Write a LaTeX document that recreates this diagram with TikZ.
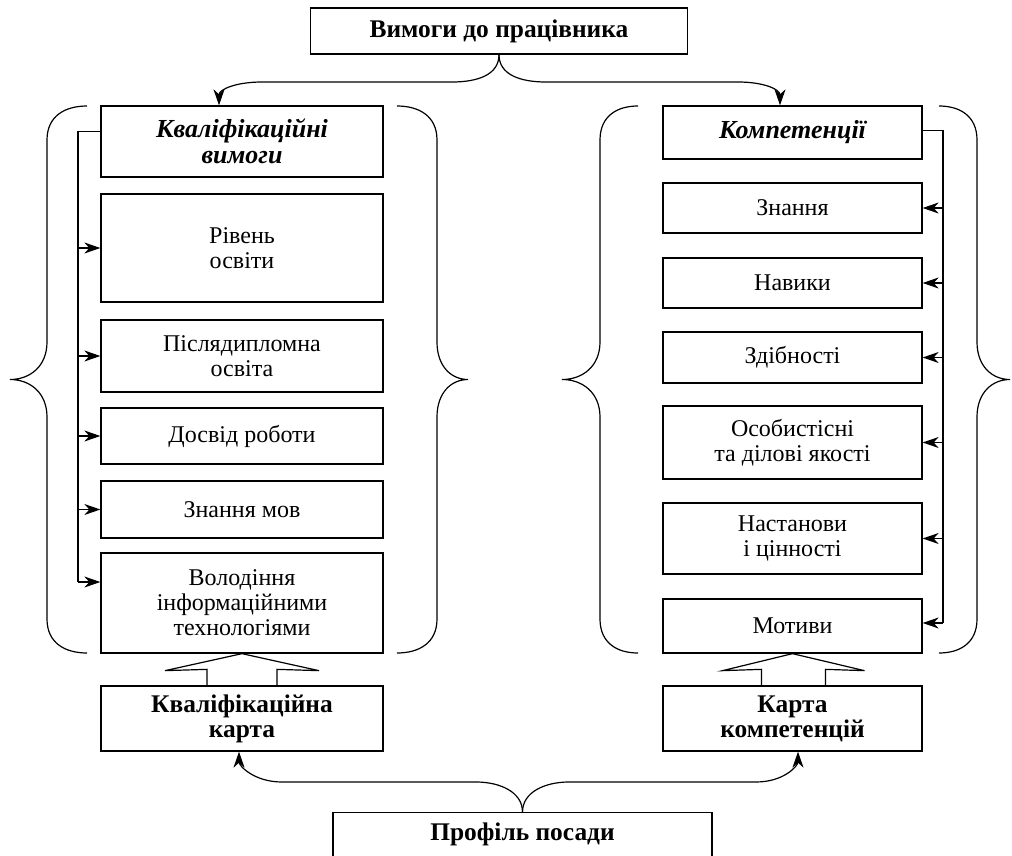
\documentclass[tikz,border=0pt]{standalone}
\usepackage{fontspec}
\setmainfont{Liberation Serif}
\usetikzlibrary{arrows.meta,calc}

% brace with its ends at x=#1, its straight part at x=#2 and its tip at x=#3
\newcommand\groupbrace[3]{%
  \draw[ln] (#1,106) .. controls ({#2+0.45*(#1-#2)},106) and (#2,116) .. (#2,140)
    -- (#2,342) .. controls (#2,366) and ({#2+0.45*(#3-#2)},379.5) .. (#3,379.5)
    .. controls ({#2+0.45*(#3-#2)},379.5) and (#2,393) .. (#2,417)
    -- (#2,619) .. controls (#2,643) and ({#2+0.45*(#1-#2)},653) .. (#1,653);}

\begin{document}
\begin{tikzpicture}[x=1pt,y=-1pt,
  ln/.style={line width=1.2pt, line join=miter},
  arr/.style={ln, -{Stealth[length=16pt,width=11pt,inset=5pt]}},
  box/.style={draw, line width=1.3pt, inner sep=0pt, align=center,
    font=\fontsize{24}{25}\selectfont},
  hbox/.style={box, font=\fontsize{25.4}{25}\selectfont\bfseries},
  tbox/.style={box, font=\fontsize{26}{25.5}\selectfont\bfseries\itshape},
  lcol/.style={minimum width=282pt},
  rcol/.style={minimum width=259pt}]
\useasboundingbox (0,0) rectangle (1012,856);
\clip (0,0) rectangle (1012,856);

% header and footer
\node[hbox, minimum width=377pt, minimum height=46pt] (top) at (499,31) {Вимоги до працівника};
\node[box, minimum width=379pt, minimum height=80pt, anchor=north] (prof) at (522.5,812) {};
\node[font=\fontsize{25.4}{25}\selectfont\bfseries, anchor=north] (proftext) at ($(prof.north)+(0,7)$) {Профіль посади};

% qualification requirements
\node[tbox, lcol, minimum height=71pt] (q0) at (242,141.5) {Кваліфікаційні\\вимоги};
\node[box, lcol, minimum height=108pt] (q1) at (242,248) {Рівень\\освіти};
\node[box, lcol, minimum height=72pt] (q2) at (242,356) {Післядипломна\\освіта};
\node[box, lcol, minimum height=56pt] (q3) at (242,436) {Досвід роботи};
\node[box, lcol, minimum height=57pt] (q4) at (242,509.5) {Знання мов};
\node[box, lcol, minimum height=100pt] (q5) at (242,603) {Володіння\\інформаційними\\технологіями};
\node[hbox, lcol, minimum height=65pt] (k1) at (242,718.5) {Кваліфікаційна\\карта};

% competencies
\node[tbox, rcol, minimum height=53pt] (c0) at (792.5,132.5) {Компетенції};
\node[box, rcol, minimum height=50pt] (c1) at (792.5,208) {Знання};
\node[box, rcol, minimum height=50pt] (c2) at (792.5,283) {Навики};
\node[box, rcol, minimum height=51pt] (c3) at (792.5,357.5) {Здібності};
\node[box, rcol, minimum height=73pt] (c4) at (792.5,442.5) {Особистісні\\та ділові якості};
\node[box, rcol, minimum height=71pt] (c5) at (792.5,538.5) {Настанови\\і цінності};
\node[box, rcol, minimum height=54pt] (c6) at (792.5,626) {Мотиви};
\node[hbox, rcol, minimum height=65pt] (k2) at (792.5,718.5) {Карта\\компетенцій};

% braces around both groups
\groupbrace{87}{47}{10}
\groupbrace{397}{437}{468}
\groupbrace{638}{600}{562}
\groupbrace{939}{977}{1010}

% split from the header
\draw[arr] (top.south) .. controls ($(top.south)+(0,20)$) and (478,82) .. (452,82)
  -- (262,82) .. controls (236,82) and ($(q0.north)+(-23,-16)$) .. ($(q0.north)+(-23,0)$);
\draw[arr] (top.south) .. controls ($(top.south)+(0,20)$) and (520,82) .. (546,82)
  -- (738,82) .. controls (764,82) and ($(c0.north)+(-12.5,-16)$) .. ($(c0.north)+(-12.5,0)$);

% split from the footer
\draw[arr] (prof.north) .. controls ($(prof.north)+(0,-20)$) and (500,782) .. (476,782)
  -- (282,782) .. controls (254,782) and ($(k1.south)+(-3,14)$) .. ($(k1.south)+(-3,0)$);
\draw[arr] (prof.north) .. controls ($(prof.north)+(0,-20)$) and (545,782) .. (569,782)
  -- (756,782) .. controls (784,782) and ($(k2.south)+(5.5,14)$) .. ($(k2.south)+(5.5,0)$);

% left spine
\coordinate (lsb) at (78,582);
\draw[ln] ($(q0.west)+(0,-10)$) -| (lsb);
\foreach \n in {q1,q2,q3,q4} \draw[arr] (\n.west -| lsb) -- (\n.west);
\draw[arr] (lsb) -- (lsb -| q5.west);

% right spine
\coordinate (rsb) at (943,623);
\draw[ln] ($(c0.east)+(0,-2)$) -| (rsb);
\foreach \n in {c1,c2,c3,c4,c5} \draw[arr] (\n.east -| rsb) -- (\n.east);
\draw[arr] (rsb) -- (rsb -| c6.east);

% hollow arrows from the maps
\draw[ln] ($(k1.north)+(-35,0)$) -- ++(0,-16) -- ($(q5.south)+(-77,17)$) -- (q5.south)
  -- ($(q5.south)+(77,17)$) -- ($(k1.north)+(35,-16)$) -- ($(k1.north)+(35,0)$);
\draw[ln] ($(k2.north)+(-31,0)$) -- ++(0,-16) -- ($(c6.south)+(-70,17)$) -- (c6.south)
  -- ($(c6.south)+(72,17)$) -- ($(k2.north)+(33,-16)$) -- ($(k2.north)+(33,0)$);
\end{tikzpicture}
\end{document}
